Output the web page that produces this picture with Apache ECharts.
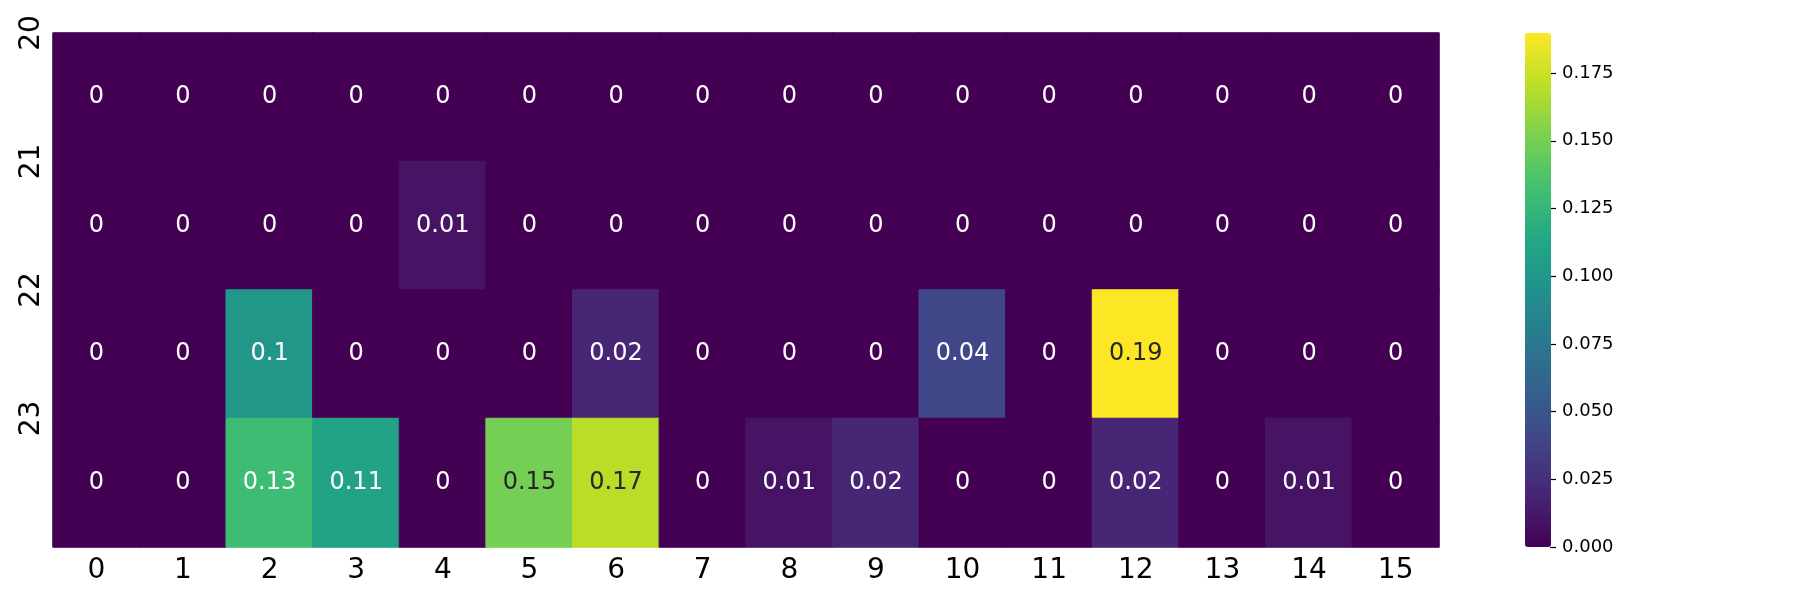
<!DOCTYPE html>
<html lang="en">
<head>
    <meta charset="UTF-8">
    <title>heatmap</title>
    <script src="https://cdn.jsdelivr.net/npm/echarts@6/dist/echarts.min.js"></script>
    <style>
        html, body { margin: 0; padding: 0; background: #fff; }
        #main { width: 1800px; height: 600px; }
    </style>
</head>
<body>
<div id="main"></div>
<script>
// columns and rows
var cols = ['0', '1', '2', '3', '4', '5', '6', '7', '8', '9', '10', '11', '12', '13', '14', '15'];
var rows = ['20', '21', '22', '23'];

// values per row
var row20 = [0, 0, 0, 0, 0, 0, 0, 0, 0, 0, 0, 0, 0, 0, 0, 0];
var row21 = [0, 0, 0, 0, 0.01, 0, 0, 0, 0, 0, 0, 0, 0, 0, 0, 0];
var row22 = [0, 0, 0.1, 0, 0, 0, 0.02, 0, 0, 0, 0.04, 0, 0.19, 0, 0, 0];
var row23 = [0, 0, 0.13, 0.11, 0, 0.15, 0.17, 0, 0.01, 0.02, 0, 0, 0.02, 0, 0.01, 0];

var colorbarTicks = [0, 0.025, 0.05, 0.075, 0.1, 0.125, 0.15, 0.175];
var vmax = 0.1898;

var viridis = ['#440154', '#482475', '#414487', '#355f8d', '#2a788e', '#21918c',
               '#22a884', '#44bf70', '#7ad151', '#bddf26', '#fde725'];

var font = 'DejaVu Sans';

(function() {
    var allRows = [row20, row21, row22, row23];
    var data = [];
    for (var r = 0; r < allRows.length; r ++) {
        for (var c = 0; c < cols.length; c ++) {
            var v = allRows[r][c];
            // border in the cell's own colour hides the seams between cells
            var fill = echarts.color.lerp(Math.min(v / vmax, 1), viridis);
            data.push({
                value: [c, r, v],
                itemStyle: { borderColor: fill, borderWidth: 1 },
                label: { color: v / vmax > 0.73 ? '#262626' : '#ffffff' }
            });
        }
    }

    var myChart = echarts.init(document.getElementById('main'));

    var option = {
        animation: false,
        backgroundColor: '#fff',
        grid: [
            { left: 53, top: 33, width: 1386, height: 514 },
            { left: 1550, top: 33, width: 1, height: 514 }
        ],
        xAxis: [{
            type: 'category',
            data: cols,
            gridIndex: 0,
            axisLine: { show: false },
            splitLine: { show: false },
            axisTick: { alignWithLabel: true, length: 5, lineStyle: { color: '#000' } },
            axisLabel: { fontFamily: font, fontSize: 28, color: '#000', margin: 10 }
        }, {
            type: 'value',
            gridIndex: 1,
            show: false
        }],
        yAxis: [{
            type: 'category',
            data: rows,
            gridIndex: 0,
            inverse: true,
            show: false
        }, {
            type: 'value',
            gridIndex: 0,
            min: 0,
            max: 4,
            interval: 1,
            inverse: true,
            position: 'left',
            axisLine: { show: false },
            splitLine: { show: false },
            axisTick: { length: 5, customValues: [0, 1, 2, 3], lineStyle: { color: '#000' } },
            axisLabel: {
                customValues: [0, 1, 2, 3],
                rotate: 90,
                fontFamily: font,
                fontSize: 28,
                color: '#000',
                margin: 7,
                formatter: function(v) { return rows[v] || ''; }
            }
        }, {
            type: 'value',
            gridIndex: 1,
            min: 0,
            max: vmax,
            position: 'right',
            axisLine: { show: false },
            splitLine: { show: false },
            axisTick: { length: 6, customValues: colorbarTicks, lineStyle: { color: '#000', width: 1.2 } },
            axisLabel: {
                customValues: colorbarTicks,
                fontFamily: font,
                fontSize: 18,
                color: '#000',
                margin: 11,
                formatter: function(v) { return v.toFixed(3); }
            }
        }],
        visualMap: {
            type: 'continuous',
            min: 0,
            max: vmax,
            seriesIndex: 0,
            calculable: false,
            hoverLink: false,
            left: 1525,
            top: 33,
            padding: 0,
            itemWidth: 26,
            itemHeight: 514,
            text: null,
            inRange: { color: viridis }
        },
        series: [{
            type: 'heatmap',
            xAxisIndex: 0,
            yAxisIndex: 0,
            data: data,
            label: {
                show: true,
                fontFamily: font,
                fontSize: 24,
                formatter: function(p) { return String(+p.value[2].toFixed(2)); }
            },
            emphasis: { disabled: true }
        }]
    };

    myChart.setOption(option);
})();
</script>
</body>
</html>
